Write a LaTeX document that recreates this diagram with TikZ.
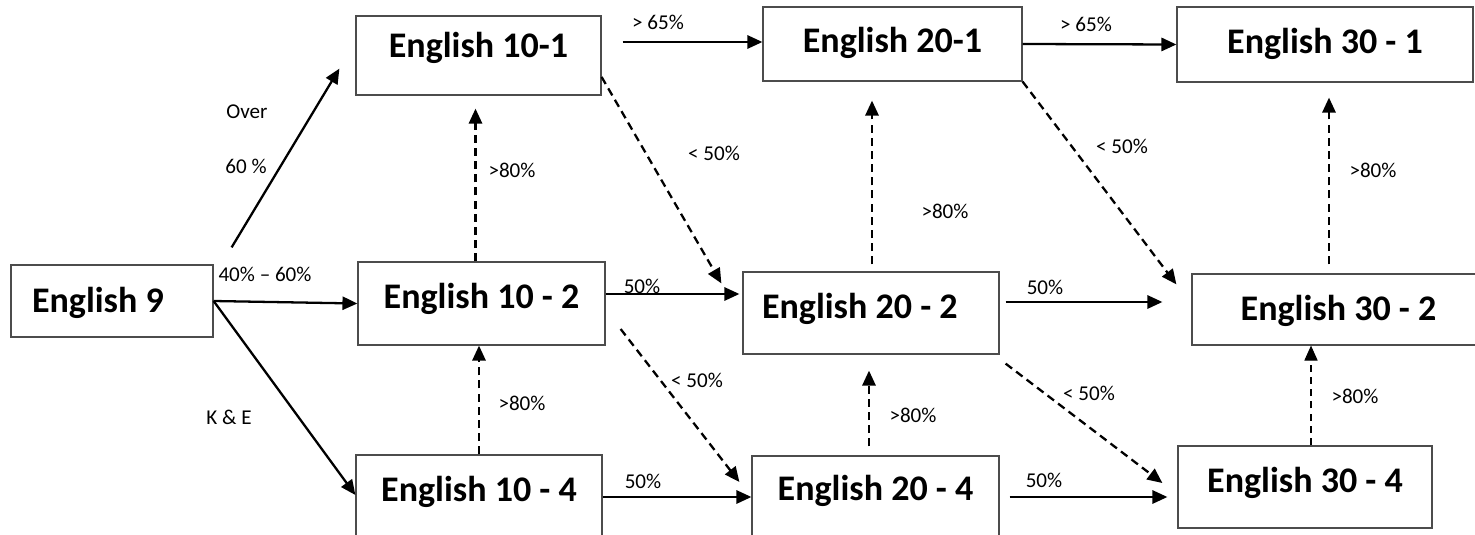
\documentclass[tikz,border=0pt]{standalone}
\usepackage{fontspec}
\setmainfont{Carlito}
\usetikzlibrary{arrows.meta,calc}

\begin{document}
\begin{tikzpicture}[>={Triangle[length=8.5pt,width=7.5pt]},
  course/.style={draw=black!70,line width=0.7pt,inner xsep=0pt,inner ysep=0pt,
    font=\bfseries\fontsize{20.5}{24}\selectfont},
  pass/.style={->,line width=1.3pt},
  move/.style={->,line width=1.3pt,dash pattern=on 4.6pt off 2.9pt},
  pct/.style={anchor=base,inner sep=0pt,font=\fontsize{12}{14}\selectfont}]
  \clip (0,0) rectangle (29.5,-10.68);
  % courses
  \node[course,text width=3.2cm,align=flush left,inner xsep=0.42cm,text height=0.94cm,text depth=0.5cm] (E9) at (2.24,-6.02) {English 9};
  \node[course,minimum width=4.9cm,text height=0.82cm,text depth=0.76cm] (E101) at (9.57,-1.11) {English 10-1};
  \node[course,minimum width=4.94cm,text height=0.92cm,text depth=0.74cm] (E102) at (9.63,-6.07) {English 10 - 2};
  \node[course,minimum width=4.92cm,text height=0.92cm,text depth=0.88cm] (E104) at (9.58,-10.0) {English 10 - 4};
  \node[course,minimum width=5.18cm,text height=0.9cm,text depth=0.58cm] (E201) at (17.85,-0.88) {English 20-1};
  \node[course,text width=4.36cm,align=flush left,inner xsep=0.38cm,text height=0.92cm,text depth=0.72cm] (E202) at (17.42,-6.26) {English 20 - 2};
  \node[course,minimum width=4.94cm,text height=0.88cm,text depth=0.9cm] (E204) at (17.51,-10.01) {English 20 - 4};
  \node[course,minimum width=5.92cm,text height=0.92cm,text depth=0.58cm] (E301) at (26.5,-0.89) {English 30 - 1};
  \node[course,minimum width=5.86cm,text height=0.92cm,text depth=0.5cm] (E302) at (26.77,-6.19) {English 30 - 2};
  \node[course,minimum width=5.08cm,text height=0.92cm,text depth=0.72cm] (E304) at (26.1,-9.74) {English 30 - 4};

  % solid moves
  \draw[pass] ($(E9.north east)+(0.36,0.34)$) -- ($(E101.south west)+(-0.32,0.54)$);
  \draw[pass] (E9.east) -- (E102.west);
  \draw[pass] (E9.east) -- ($(E104.west)+(0,0.1)$);
  \draw[pass] ($(E101.east)+(0.42,0.27)$) coordinate (a1) -- (a1 -| E201.west);
  \draw[pass] (E201.east) -- (E301.west);
  \draw[pass,shorten >=0.06cm] ($(E102.east)+(0,0.19)$) coordinate (a2) -- (a2 -| E202.west);
  \draw[pass] ($(E104.east)+(0,0.06)$) coordinate (a5) -- (a5 -| E204.west);
  \draw[pass,shorten >=0.58cm] ($(E202.east)+(0.12,0.22)$) coordinate (a3) -- (a3 -| E302.west);
  \draw[pass,shorten >=0.2cm] ($(E204.east)+(0.2,0.07)$) coordinate (a4) -- (a4 -| E304.west);

  % dashed moves
  \draw[move,shorten >=0.26cm] ($(E102.north)+(-0.12,0)$) coordinate (u1) -- (u1 |- E101.south);
  \draw[move] (E104.north) -- (E104.north |- E102.south);
  \draw[move,shorten >=0.38cm] ($(E202.north)+(0.02,0.14)$) coordinate (u3) -- (u3 |- E201.south);
  \draw[move,shorten >=0.32cm] ($(E204.north)+(-0.13,0.18)$) coordinate (u4) -- (u4 |- E202.south);
  \draw[move,shorten >=0.3cm] ($(E302.north)+(-0.19,0.18)$) coordinate (u5) -- (u5 |- E301.south);
  \draw[->,line width=0.6pt,dash pattern=on 4pt off 3pt] ($(E304.north)+(0.12,0)$) coordinate (u6) -- (u6 |- E302.south);
  \draw[move] ($(E101.east)+(0,-0.43)$) -- ($(E202.north west)+(-0.42,-0.24)$);
  \draw[move] ($(E102.east)+(0.3,-0.51)$) -- ($(E204.west)+(-0.24,0.37)$);
  \draw[move] (E201.south east) -- ($(E302.north west)+(-0.3,-0.22)$);
  \draw[move] ($(E202.south east)+(0.12,-0.18)$) -- ($(E304.west)+(-0.3,0.08)$);

  % marks
  \node[pct] (over) at (4.94,-2.36) {Over};
  \node[pct] (sixty) at (4.92,-3.46) {60 \%};
  \node[pct] (mid) at (5.30,-5.62) {40\% -- 60\%};
  \node[pct] (ke) at (4.58,-8.48) {K \& E};
  \node[pct] (g1) at (13.16,-0.58) {> 65\%};
  \node[pct] (g2) at (21.72,-0.62) {> 65\%};
  \node[pct] (h1) at (10.24,-3.54) {>80\%};
  \node[pct] (h2) at (18.9,-4.36) {>80\%};
  \node[pct] (h3) at (27.46,-3.54) {>80\%};
  \node[pct] (h4) at (10.44,-8.2) {>80\%};
  \node[pct] (h5) at (18.26,-8.44) {>80\%};
  \node[pct] (h6) at (27.1,-8.06) {>80\%};
  \node[pct] (d1) at (14.28,-3.2) {< 50\%};
  \node[pct] (d2) at (22.44,-3.06) {< 50\%};
  \node[pct] (d3) at (13.94,-7.74) {< 50\%};
  \node[pct] (d4) at (21.78,-8.0) {< 50\%};
  \node[pct] (f1) at (12.84,-5.86) {50\%};
  \node[pct] (f2) at (20.9,-5.88) {50\%};
  \node[pct] (f3) at (12.86,-9.76) {50\%};
  \node[pct] (f4) at (20.88,-9.74) {50\%};
\end{tikzpicture}
\end{document}
